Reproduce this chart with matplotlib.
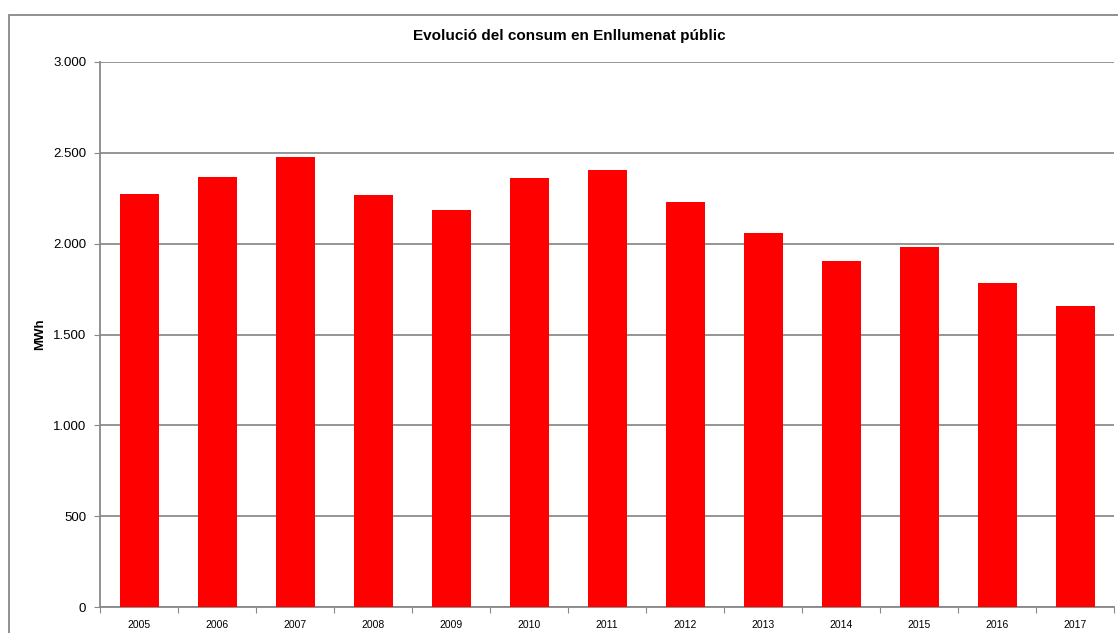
import matplotlib.pyplot as plt
import numpy as np
from matplotlib.patches import Rectangle
from matplotlib.ticker import FuncFormatter

years = ["2005", "2006", "2007", "2008", "2009", "2010", "2011",
         "2012", "2013", "2014", "2015", "2016", "2017"]
consum_mwh = [2274, 2366, 2476, 2270, 2184, 2359, 2408,
              2230, 2059, 1906, 1981, 1786, 1656]

plt.rcParams["font.family"] = ["Liberation Sans", "DejaVu Sans"]

fig = plt.figure(figsize=(11.18, 6.33), dpi=100)
ax = fig.add_axes([100 / 1118, 1 - 607 / 633, 1014 / 1118, 545 / 633])

# outer chart border (cut off at right and bottom like the reference)
fig.patches.append(Rectangle((9 / 1118, -0.1), 1.2, 1 - 15 / 633 + 0.1,
                             transform=fig.transFigure, fill=False,
                             edgecolor="#888888", linewidth=1.3))

x = np.arange(len(years))
ax.bar(x, consum_mwh, width=0.5, color="#ff0000", zorder=3)

ax.set_xlim(-0.5, len(years) - 0.5)
ax.set_ylim(0, 3000)
ax.set_yticks(np.arange(0, 3001, 500))
ax.yaxis.set_major_formatter(
    FuncFormatter(lambda v, p: f"{int(v):,}".replace(",", ".")))
ax.grid(axis="y", color="#8c8c8c", linewidth=1.3, zorder=0)

# tick marks at category boundaries, labels at centres
ax.set_xticks(np.arange(-0.5, len(years), 1.0))
ax.set_xticklabels([])
ax.set_xticks(x, minor=True)
ax.set_xticklabels(years, minor=True, fontsize=7.5)
ax.tick_params(axis="x", which="major", length=4, color="#888888")
ax.tick_params(axis="x", which="minor", length=0, pad=9)
ax.tick_params(axis="y", length=4, color="#888888", labelsize=9.5, pad=6)

for side in ["top", "right"]:
    ax.spines[side].set_visible(False)
for side in ["left", "bottom"]:
    ax.spines[side].set_color("#888888")
    ax.spines[side].set_linewidth(1.3)

ax.set_ylabel("MWh", fontsize=9.5, fontweight="bold")
ax.yaxis.set_label_coords(-54 / 1014, 0.5)
fig.text(569 / 1118, 1 - 36 / 633, "Evolució del consum en Enllumenat públic",
         ha="center", va="center", fontsize=11, fontweight="bold")

fig.savefig("out.png", dpi=100)
